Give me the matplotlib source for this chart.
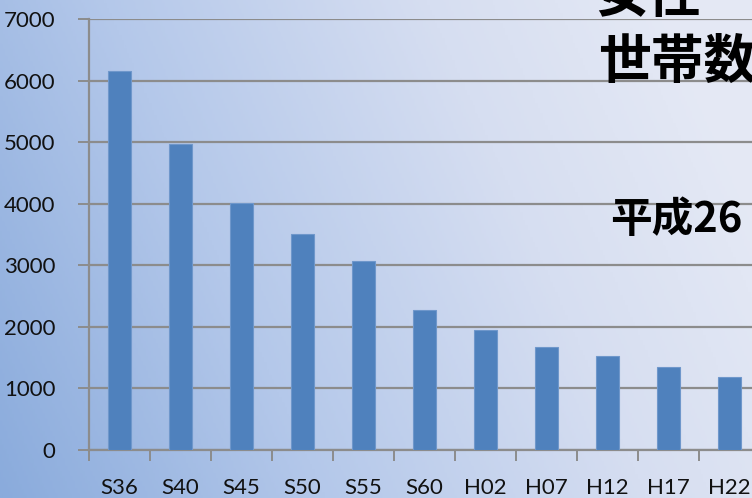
import numpy as np
import matplotlib
matplotlib.use("Agg")
import matplotlib.pyplot as plt
from matplotlib.colors import LinearSegmentedColormap

categories = ["S36", "S40", "S45", "S50", "S55", "S60", "H02", "H07", "H12", "H17", "H22"]
values = [6160, 4970, 4010, 3500, 3070, 2280, 1950, 1680, 1520, 1340, 1190]
yticks = [0, 1000, 2000, 3000, 4000, 5000, 6000, 7000]
title_top = "女性"
title_mid = "世帯数"
subtitle = "平成26"

W, H = 752, 498
fig = plt.figure(figsize=(W / 100, H / 100), dpi=100)

# background gradient
bg = fig.add_axes([0, 0, 1, 1], zorder=0)
bg.set_axis_off()
xx, yy = np.meshgrid(np.linspace(0, 1, 300), np.linspace(0, 1, 200))
t = np.clip(0.85 * xx + 0.25 * yy, 0, 1)
cmap = LinearSegmentedColormap.from_list("bg", ["#8AABDC", "#B4C8EA", "#D6DEF1", "#EAEDF6"])
bg.imshow(t, cmap=cmap, origin="lower", extent=[0, 1, 0, 1], aspect="auto", vmin=0, vmax=1.1)
bg.set_xlim(0, 1)
bg.set_ylim(0, 1)

left = 89 / W
right = 760 / W
bottom = (H - 450) / H
top = (H - 19) / H
ax = fig.add_axes([left, bottom, right - left, top - bottom], zorder=1)
ax.patch.set_alpha(0)

x = np.arange(len(categories))
ax.bar(x, values, width=0.39, color="#4F81BD", edgecolor="#6F97CB", linewidth=0.8, zorder=3)

ax.set_xlim(-0.5, len(categories) - 0.5)
ax.set_ylim(0, 7000)
ax.set_yticks(yticks)
ax.set_yticklabels([str(v) for v in yticks])
ax.yaxis.grid(True, color="#8C8C8C", linewidth=1.6, zorder=1)
ax.set_axisbelow(True)

ax.set_xticks(np.arange(-0.5, len(categories), 1.0))
ax.set_xticklabels([])
ax.set_xticks(x, minor=True)
ax.set_xticklabels(categories, minor=True)
ax.tick_params(axis="x", which="major", length=8, width=1.4, color="#8C8C8C", direction="out")
ax.tick_params(axis="x", which="minor", length=0, pad=20, labelsize=16)
ax.tick_params(axis="y", length=8, width=1.4, color="#8C8C8C", direction="out", labelsize=16, pad=16)
for lab in ax.get_xticklabels(minor=True) + ax.get_yticklabels():
    lab.set_fontfamily(["Lato", "DejaVu Sans"])
    lab.set_color("#111111")

for s in ["top", "right"]:
    ax.spines[s].set_visible(False)
for s in ["left", "bottom"]:
    ax.spines[s].set_color("#8C8C8C")
    ax.spines[s].set_linewidth(1.6)

jp = ["Noto Sans CJK JP", "DejaVu Sans"]
fig.text(596 / W, 1 - 12 / H, title_top, fontsize=38, fontweight="bold", family=jp,
         ha="left", va="baseline", color="black", zorder=5)
fig.text(598 / W, 1 - 78 / H, title_mid, fontsize=38, fontweight="bold", family=jp,
         ha="left", va="baseline", color="black", zorder=5)
fig.text(610 / W, 1 - 232 / H, subtitle, fontsize=30, fontweight="bold", family=jp,
         ha="left", va="baseline", color="black", zorder=5)

fig.savefig("out.png", dpi=100)
